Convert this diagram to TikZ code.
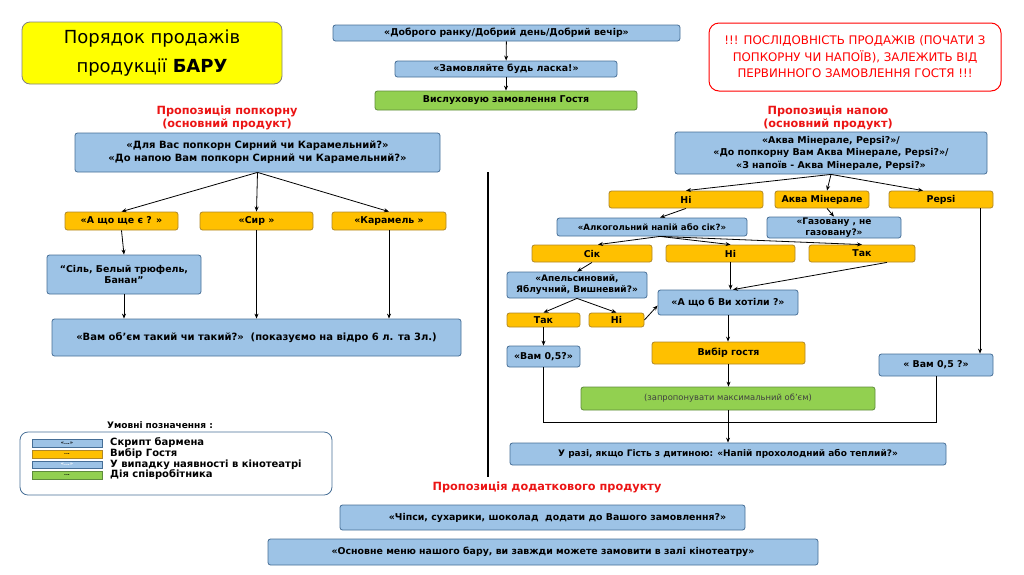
\documentclass[tikz,border=0pt]{standalone}
\usepackage{fontspec}
\setmainfont{DejaVu Sans}
\usetikzlibrary{arrows.meta}

\definecolor{scriptblue}{RGB}{157,195,230}
\definecolor{scriptedge}{RGB}{70,110,150}
\definecolor{choiceorange}{RGB}{255,192,0}
\definecolor{choiceedge}{RGB}{175,135,40}
\definecolor{actiongreen}{RGB}{146,208,80}
\definecolor{actionedge}{RGB}{95,140,60}
\definecolor{titleyellow}{RGB}{255,255,0}
\definecolor{headred}{RGB}{235,20,20}

\tikzset{
  box/.style={draw, rounded corners=2.5pt, inner sep=0pt, align=center, line width=0.8pt,
    font=\bfseries\fontsize{9.4}{11}\selectfont},
  script/.style={box, fill=scriptblue, draw=scriptedge},
  choice/.style={box, fill=choiceorange, draw=choiceedge},
  action/.style={box, fill=actiongreen, draw=actionedge},
  swatch/.style={draw, inner sep=0pt, minimum width=70pt, minimum height=7.5pt, line width=0.5pt,
    font=\bfseries\fontsize{5}{5}\selectfont},
  legendtext/.style={anchor=west, inner sep=0pt, font=\bfseries\fontsize{10}{11}\selectfont},
  heading/.style={text=headred, align=center, inner sep=0pt, font=\bfseries\fontsize{11.3}{13.5}\selectfont},
  arr/.style={-{Stealth[length=5pt,width=4pt]}, line width=0.8pt},
}

\begin{document}
\begin{tikzpicture}[x=1pt, y=-1pt]
  \useasboundingbox (0,0) rectangle (1024,574);

  % title and note
  \node[draw=gray, fill=titleyellow, rounded corners=8pt, line width=0.8pt, minimum width=260pt,
    minimum height=62pt, align=center, font=\fontsize{18}{29}\selectfont] (title) at (152,53)
    {Порядок продажів\\продукції \textbf{БАРУ}};
  \node[draw=red, fill=white, rounded corners=10pt, line width=1pt, minimum width=292pt,
    minimum height=68pt, align=center, text=red, font=\fontsize{11.8}{16.5}\selectfont] (note) at (855,57)
    {!!! ПОСЛІДОВНІСТЬ ПРОДАЖІВ (ПОЧАТИ З\\ПОПКОРНУ ЧИ НАПОЇВ), ЗАЛЕЖИТЬ ВІД\\ПЕРВИННОГО ЗАМОВЛЕННЯ ГОСТЯ !!!};

  % greeting
  \node[script, minimum width=347pt, minimum height=16pt] (greet) at (506.5,33) {«Доброго ранку/Добрий день/Добрий вечір»};
  \node[script, minimum width=222pt, minimum height=16pt] (order) at (506,69) {«Замовляйте будь ласка!»};
  \node[action, minimum width=262pt, minimum height=19pt] (listen) at (506,100.5) {Вислуховую замовлення Гостя};
  \draw[arr] (greet) -- (order);
  \draw[arr] (order) -- (listen);

  % popcorn branch
  \node[heading] (popHead) at (227,118) {Пропозиція попкорну\\(основний продукт)};
  \node[script, minimum width=365pt, minimum height=39pt, font=\bfseries\fontsize{10}{13}\selectfont] (pop) at (257.5,152.5)
    {«Для Вас попкорн Сирний чи Карамельний?»\\«До напою Вам попкорн Сирний чи Карамельний?»};
  \node[choice, minimum width=113pt, minimum height=18pt] (ask) at (121.5,221) {«А що ще є ? »};
  \node[choice, minimum width=113pt, minimum height=18pt] (cheese) at (256.5,221) {«Сир »};
  \node[choice, minimum width=114pt, minimum height=18pt] (caramel) at (389,221) {«Карамель »};
  \node[script, minimum width=154pt, minimum height=39pt] (salt) at (124,274.5) {“Сіль, Белый трюфель,\\Банан”};
  \node[script, minimum width=409pt, minimum height=37pt, font=\bfseries\fontsize{10}{12}\selectfont] (volume) at (256.5,337.5)
    {«Вам об’єм такий чи такий?»\ \ (показуємо на відро 6 л. та 3л.)};
  \draw[arr] (pop.south) -- (ask.north);
  \draw[arr] (pop.south) -- (cheese.north);
  \draw[arr] (pop.south) -- (caramel.north);
  \draw[arr] (ask.south) -- (salt.north);
  \draw[arr] (salt.south) -- (salt.south |- volume.north);
  \draw[arr] (cheese.south) -- (cheese.south |- volume.north);
  \draw[arr] (caramel.south) -- (caramel.south |- volume.north);

  % divider
  \draw[line width=2pt] (488,172) -- (488,477);

  % drink branch
  \node[heading] (drinkHead) at (828,118) {Пропозиція напою\\(основний продукт)};
  \node[script, minimum width=312pt, minimum height=42pt, font=\bfseries\fontsize{9.4}{12.5}\selectfont] (drink) at (831,153)
    {«Аква Мінерале, Pepsi?»/\\«До попкорну Вам Аква Мінерале, Pepsi?»/\\«З напоїв - Аква Мінерале, Pepsi?»};
  \node[choice, minimum width=154pt, minimum height=17pt] (no1) at (686,199.5) {Ні};
  \node[choice, minimum width=94pt, minimum height=17pt] (aqua) at (822,199.5) {Аква Мінерале};
  \node[choice, minimum width=104pt, minimum height=17pt] (pepsi) at (941,199.5) {Pepsi};
  \node[script, minimum width=190pt, minimum height=18pt, font=\bfseries\fontsize{8.6}{11}\selectfont] (alco) at (652,227) {«Алкогольний напій або сік?»};
  \node[script, minimum width=134pt, minimum height=21pt, font=\bfseries\fontsize{9}{11.5}\selectfont] (gas) at (834,227.5)
    {«Газовану , не\\газовану?»};
  \node[choice, minimum width=120pt, minimum height=17pt] (juice) at (592,253.5) {Сік};
  \node[choice, minimum width=129pt, minimum height=17pt] (no2) at (730.5,253.5) {Ні};
  \node[choice, minimum width=106pt, minimum height=17pt] (yes1) at (862,253.5) {Так};
  \node[script, minimum width=140pt, minimum height=26pt, font=\bfseries\fontsize{9}{11}\selectfont] (apel) at (577,285) {«Апельсиновий,\\Яблучний, Вишневий?»};
  \node[script, minimum width=140pt, minimum height=25pt] (awish) at (728,302.5) {«А що б Ви хотіли ?»};
  \node[choice, minimum width=73pt, minimum height=14pt] (yes2) at (543.5,320) {Так};
  \node[choice, minimum width=55pt, minimum height=14pt] (no3) at (616.5,320) {Ні};
  \node[script, minimum width=73pt, minimum height=21pt] (half1) at (543.5,356.5) {«Вам 0,5?»};
  \node[choice, minimum width=153pt, minimum height=22pt] (vybir) at (728.5,353) {Вибір гостя};
  \node[script, minimum width=114pt, minimum height=22pt] (half2) at (936,365) {« Вам 0,5 ?»};
  \node[action, minimum width=294pt, minimum height=23pt, font=\fontsize{8.4}{10}\selectfont, text=black!75] (offer) at (728,398.5)
    {(запропонувати максимальний об’єм)};
  \node[script, minimum width=436pt, minimum height=22pt, font=\bfseries\fontsize{9}{11}\selectfont] (child) at (728,454)
    {У разі, якщо Гість з дитиною: «Напій прохолодний або теплий?»};
  \coordinate (merge) at (728,422);

  \draw[arr] (drink.south) -- (no1.north);
  \draw[arr] (drink.south) -- ([xshift=5pt]aqua.north);
  \draw[arr] (drink.south) -- ([xshift=-18pt]pepsi.north);
  \draw[arr] (no1.south) -- ([xshift=8pt]alco.north);
  \draw[arr] ([xshift=5pt]aqua.south) -- (gas.north);
  \draw[arr] ([xshift=39pt]pepsi.south) -- ([xshift=39pt]pepsi.south |- half2.north);
  \draw[arr] ([xshift=8pt]alco.south) -- ([xshift=6pt]juice.north);
  \draw[arr] ([xshift=8pt]alco.south) -- (no2.north);
  \draw[arr] ([xshift=8pt]alco.south) -- (yes1.north);
  \draw[arr] (juice.south) -- (apel.north);
  \draw[arr] (no2.south) -- (no2.south |- awish.north);
  \draw[arr] ([xshift=25pt]yes1.south) -- ([xshift=5pt]awish.north);
  \draw[arr] (apel.south) -- (yes2.north);
  \draw[arr] (apel.south) -- (no3.north);
  \draw[arr] (no3.east) -- ([yshift=-3pt]awish.west);
  \draw[arr] (yes2.south) -- (half1.north);
  \draw[arr] (awish.south) -- (awish.south |- vybir.north);
  \draw[arr] (vybir.south) -- (vybir.south |- offer.north);
  \draw[arr] (offer.south) -- (child.north);
  \draw[line width=0.8pt] (half1.south) |- (merge) -| (half2.south);

  % legend
  \node[inner sep=0pt, font=\bfseries\fontsize{9}{11}\selectfont] (legendHead) at (160,425) {Умовні позначення :};
  \node[draw=scriptedge, rounded corners=8pt, line width=0.8pt, minimum width=312pt, minimum height=63pt] (legend) at (176,463.5) {};
  \node[swatch, fill=scriptblue, draw=scriptedge] (keyScript) at (67,443) {«...»};
  \node[swatch, fill=choiceorange, draw=choiceedge] (keyChoice) at (67,454) {...};
  \node[swatch, fill=scriptblue, draw=scriptedge, text=white] (keyVenue) at (67,464.5) {«...»};
  \node[swatch, fill=actiongreen, draw=actionedge] (keyAction) at (67,475) {...};
  \node[legendtext] at (110,443) {Скрипт бармена};
  \node[legendtext] at (110,454) {Вибір Гостя};
  \node[legendtext] at (110,464.5) {У випадку наявності в кінотеатрі};
  \node[legendtext] at (110,475) {Дія співробітника};

  % extra products
  \node[heading] (extraHead) at (547,487) {Пропозиція додаткового продукту};
  \node[script, minimum width=405pt, minimum height=25pt] (chips) at (542.5,517.5)
    {\hspace{30pt}«Чіпси, сухарики, шоколад\ \ додати до Вашого замовлення?»};
  \node[script, minimum width=550pt, minimum height=26pt] (menu) at (543,552)
    {«Основне меню нашого бару, ви завжди можете замовити в залі кінотеатру»};
\end{tikzpicture}
\end{document}
